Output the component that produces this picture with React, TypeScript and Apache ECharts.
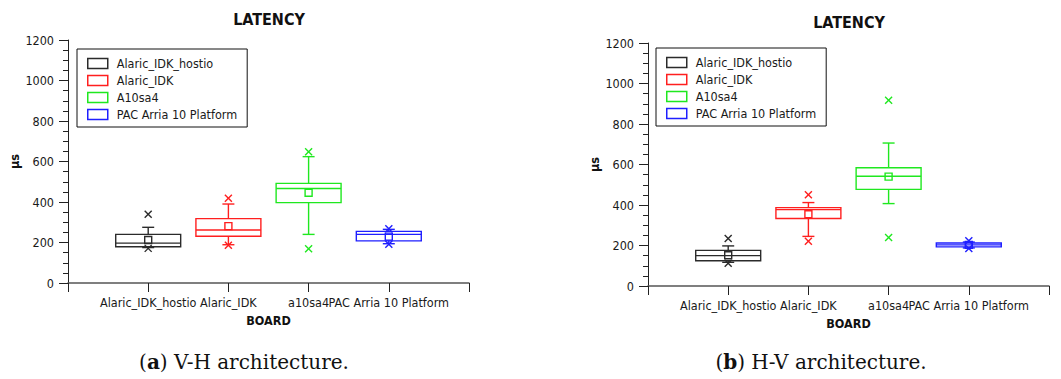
import React, { useEffect, useRef } from 'react';
import * as echarts from 'echarts';

const boards = ['Alaric_IDK_hostio', 'Alaric_IDK', 'A10sa4', 'PAC Arria 10 Platform'];
const xTickLabels = ['', 'Alaric_IDK_hostio', 'Alaric_IDK', 'a10sa4', 'PAC Arria 10 Platform', ''];
const boardPositions = [1, 2, 3, 4];
const boardColors = ['#2b2b2b', '#ff1f1f', '#1fe81f', '#1f1fff'];
const chartTitle = 'LATENCY';
const xAxisName = 'BOARD';
const yAxisName = 'μs';

// (a) V-H architecture
const vhWhiskerLow = [175, 189, 240, 194];
const vhQ1 = [179, 231, 397, 208];
const vhMedian = [197, 262, 467, 240];
const vhQ3 = [240, 318, 492, 255];
const vhWhiskerHigh = [275, 390, 624, 265];
const vhMean = [212, 281, 446, 229];
const vhOutlierLow = [171, 187, 169, 191];
const vhOutlierHigh = [339, 418, 648, 268];

// (b) H-V architecture
const hvWhiskerLow = [117, 245, 407, 188];
const hvQ1 = [125, 333, 477, 193];
const hvMedian = [150, 377, 542, 203];
const hvQ3 = [176, 387, 584, 212];
const hvWhiskerHigh = [198, 412, 706, 217];
const hvMean = [152, 354, 540, 203];
const hvOutlierLow = [112, 221, 240, 185];
const hvOutlierHigh = [234, 451, 917, 224];

const captionLabels = ['a', 'b'];
const captionTexts = [' V-H architecture.', ' H-V architecture.'];

const FONT = '"DejaVu Sans Condensed", "Liberation Sans Narrow", "Liberation Sans", Tahoma, sans-serif';
const SERIF = '"DejaVu Serif", serif';

function makeRenderItem(color: string) {
  return (params: any, api: any) => {
    const x = api.value(0);
    const wl = api.coord([x, api.value(1)]);
    const q1 = api.coord([x, api.value(2)]);
    const md = api.coord([x, api.value(3)]);
    const q3 = api.coord([x, api.value(4)]);
    const wh = api.coord([x, api.value(5)]);
    const mn = api.coord([x, api.value(6)]);
    const ol = api.coord([x, api.value(7)]);
    const oh = api.coord([x, api.value(8)]);
    const unit = api.size([1, 0])[0];
    const half = unit * 0.405;
    const cap = 6;
    const sq = 3.5;
    const xs = 3.5;
    const cx = wl[0];
    const st = { stroke: color, lineWidth: 1.4, fill: null };
    const line = (x1: number, y1: number, x2: number, y2: number) => ({
      type: 'line',
      shape: { x1, y1, x2, y2 },
      style: st,
    });
    const children: any[] = [
      line(cx, wl[1], cx, q1[1]),
      line(cx, q3[1], cx, wh[1]),
      line(cx - cap, wl[1], cx + cap, wl[1]),
      line(cx - cap, wh[1], cx + cap, wh[1]),
      {
        type: 'rect',
        shape: { x: cx - half, y: q3[1], width: half * 2, height: q1[1] - q3[1] },
        style: st,
      },
      line(cx - half, md[1], cx + half, md[1]),
      {
        type: 'rect',
        shape: { x: cx - sq, y: mn[1] - sq, width: sq * 2, height: sq * 2 },
        style: st,
      },
      line(cx - xs, ol[1] - xs, cx + xs, ol[1] + xs),
      line(cx - xs, ol[1] + xs, cx + xs, ol[1] - xs),
      line(cx - xs, oh[1] - xs, cx + xs, oh[1] + xs),
      line(cx - xs, oh[1] + xs, cx + xs, oh[1] - xs),
    ];
    return { type: 'group', children };
  };
}

function buildSeries(
  idx: number,
  wl: number[], q1: number[], md: number[], q3: number[], wh: number[], mn: number[], ol: number[], oh: number[]
) {
  return boards.map((name, i) => ({
    type: 'custom',
    name,
    xAxisIndex: idx,
    yAxisIndex: idx,
    itemStyle: { color: boardColors[i] },
    renderItem: makeRenderItem(boardColors[i]),
    encode: { x: 0, y: [1, 2, 3, 4, 5, 6, 7, 8] },
    data: [[boardPositions[i], wl[i], q1[i], md[i], q3[i], wh[i], mn[i], ol[i], oh[i]]],
    z: 3,
  }));
}

const grids = [
  { left: 68, top: 40, width: 401, height: 243 },
  { left: 648, top: 43, width: 401, height: 243 },
];

function xAxisOf(idx: number) {
  return {
    type: 'value',
    gridIndex: idx,
    min: 0,
    max: 5,
    interval: 1,
    name: xAxisName,
    nameLocation: 'middle',
    nameGap: 24,
    nameTextStyle: { fontFamily: FONT, fontSize: 12.5, fontWeight: 'bold', color: '#111' },
    axisLine: { show: true, onZero: false, lineStyle: { color: '#555', width: 1.5 } },
    axisTick: { show: true, length: 9, lineStyle: { color: '#222', width: 1 } },
    axisLabel: {
      margin: 13,
      fontFamily: FONT,
      fontSize: 12.5,
      color: '#1a1a1a',
      showMinLabel: true,
      showMaxLabel: true,
      formatter: (v: number) => xTickLabels[Math.round(v)] ?? '',
    },
    splitLine: { show: false },
  };
}

function yAxisOf(idx: number) {
  return {
    type: 'value',
    gridIndex: idx,
    min: 0,
    max: 1200,
    interval: 200,
    name: yAxisName,
    nameLocation: 'middle',
    nameRotate: 90,
    nameGap: 37,
    nameTextStyle: { fontFamily: FONT, fontSize: 12.5, fontWeight: 'bold', color: '#111' },
    axisLine: { show: true, lineStyle: { color: '#222', width: 1 } },
    axisTick: { show: true, length: 9, lineStyle: { color: '#222', width: 1 } },
    minorTick: { show: true, splitNumber: 4, length: 5, lineStyle: { color: '#222', width: 1 } },
    axisLabel: {
      margin: 14,
      fontFamily: FONT,
      fontSize: 12.5,
      color: '#1a1a1a',
      formatter: (v: number) => String(v),
    },
    splitLine: { show: false },
    minorSplitLine: { show: false },
  };
}

function legendOf(left: number, top: number) {
  return {
    orient: 'vertical',
    left,
    top,
    icon: 'rect',
    itemWidth: 20,
    itemHeight: 10,
    itemGap: 4,
    padding: [8, 10, 6, 10],
    borderColor: '#111',
    borderWidth: 1,
    backgroundColor: '#fff',
    selectedMode: false,
    textStyle: { fontFamily: FONT, fontSize: 12.5, color: '#1a1a1a', padding: [0, 0, 0, 4] },
    data: boards.map((name, i) => ({
      name,
      itemStyle: { color: 'rgba(0,0,0,0)', borderColor: boardColors[i], borderWidth: 1.5 },
    })),
  };
}

function captionGraphic(i: number, x: number) {
  return {
    type: 'text',
    x,
    y: 362,
    style: {
      text: '({b|' + captionLabels[i] + '})' + captionTexts[i],
      align: 'center',
      verticalAlign: 'middle',
      fontFamily: SERIF,
      fontSize: 20,
      fill: '#111',
      rich: { b: { fontFamily: SERIF, fontSize: 20, fontWeight: 'bold', fill: '#111' } },
    },
  };
}

export default function App() {
  const ref = useRef<HTMLDivElement>(null);
  useEffect(() => {
    if (!ref.current) return;
    const chart = echarts.init(ref.current, undefined, { renderer: 'svg' });
    const titleStyle = { fontFamily: FONT, fontSize: 16, fontWeight: 'bold', color: '#111' };
    const option: any = {
      animation: false,
      backgroundColor: '#fff',
      title: [
        { text: chartTitle, left: 264, top: 6, textAlign: 'center', textStyle: titleStyle },
        { text: chartTitle, left: 844, top: 9, textAlign: 'center', textStyle: titleStyle },
      ],
      legend: [legendOf(77, 49), legendOf(656, 48)],
      grid: grids,
      xAxis: [xAxisOf(0), xAxisOf(1)],
      yAxis: [yAxisOf(0), yAxisOf(1)],
      series: [
        ...buildSeries(0, vhWhiskerLow, vhQ1, vhMedian, vhQ3, vhWhiskerHigh, vhMean, vhOutlierLow, vhOutlierHigh),
        ...buildSeries(1, hvWhiskerLow, hvQ1, hvMedian, hvQ3, hvWhiskerHigh, hvMean, hvOutlierLow, hvOutlierHigh),
      ],
      graphic: [captionGraphic(0, 244), captionGraphic(1, 821)],
    };
    chart.setOption(option);
    return () => chart.dispose();
  }, []);
  return (
    <div
      ref={ref}
      style={{ position: 'fixed', left: 0, top: 0, width: 1061, height: 379, background: '#fff' }}
    />
  );
}
